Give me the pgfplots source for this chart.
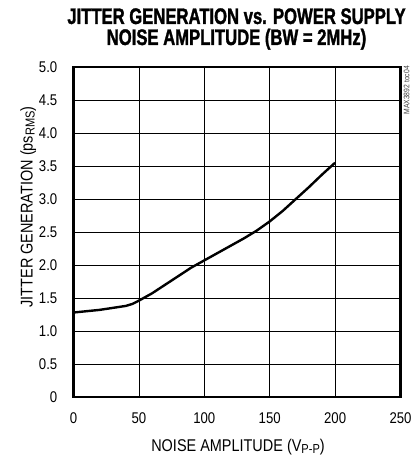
\documentclass[border=0pt]{standalone}
\usepackage{fontspec}
\setmainfont{Liberation Sans}[FakeStretch=0.85]
\newfontfamily\titlefont{Liberation Sans Bold}[FakeStretch=0.74, FakeBold=1.4]
\usepackage{pgfplots}
\pgfplotsset{compat=1.18}

\pgfplotstableread{
x y
0 1.28
10 1.30
20 1.32
30 1.35
40 1.38
45 1.41
50 1.46
60 1.57
70 1.70
80 1.83
90 1.96
100 2.07
110 2.18
120 2.29
130 2.40
140 2.52
150 2.66
160 2.82
170 3.00
180 3.18
190 3.37
200 3.55
}\jitter

\newcommand{\sub}[1]{\raisebox{-0.25ex}{\fontsize{13bp}{13bp}\selectfont #1}}

\begin{document}
\begin{tikzpicture}
\begin{axis}[name=ax,
  scale only axis, width=327bp, height=330bp,
  xmin=0, xmax=250, ymin=0, ymax=5,
  xtick={0,50,...,250},
  ytick={0,0.5,...,5},
  yticklabels={0,0.5,1.0,1.5,2.0,2.5,3.0,3.5,4.0,4.5,5.0},
  grid=major, major grid style={black, line width=0.7bp},
  axis line style={black, line width=2.2bp},
  major tick length=0pt,
  ticklabel style={font=\fontsize{15.5bp}{15.5bp}\selectfont, inner sep=0pt},
  xticklabel style={anchor=base, yshift=-27bp},
  yticklabel style={anchor=east, xshift=-16bp},
  /pgf/number format/assume math mode=true,
]
\addplot[black, line width=2.4bp] table[x=x, y=y] {\jitter};
\end{axis}
\node[anchor=base, inner sep=0pt, font=\titlefont\fontsize{22.5bp}{22.5bp}\selectfont] at ([xshift=-0.5bp, yshift=43bp]ax.north) {JITTER GENERATION vs. POWER SUPPLY};
\node[anchor=base, inner sep=0pt, font=\titlefont\fontsize{22.5bp}{22.5bp}\selectfont] at ([xshift=-0.5bp, yshift=22bp]ax.north) {NOISE AMPLITUDE (BW = 2MHz)};
\node[anchor=base, font=\fontsize{17bp}{17bp}\selectfont, inner sep=0pt] at ([xshift=1bp, yshift=-54bp]ax.south) {NOISE AMPLITUDE (V\sub{P-P})};
\node[anchor=base, rotate=90, font=\fontsize{17bp}{17bp}\selectfont, inner sep=0pt] at ([xshift=-41bp, yshift=190bp]ax.south west) {JITTER GENERATION (ps\sub{RMS})};
\node[anchor=north east, rotate=90, font=\fontsize{8bp}{8bp}\selectfont, inner sep=0pt, text=black!75] at ([xshift=3bp, yshift=1bp]ax.north east) {MAX3892 toc04};
\pgfresetboundingbox
\path[use as bounding box] ([xshift=-73.5bp, yshift=-59bp]ax.south west) rectangle ([xshift=12.5bp, yshift=67bp]ax.north east);
\end{tikzpicture}
\end{document}
